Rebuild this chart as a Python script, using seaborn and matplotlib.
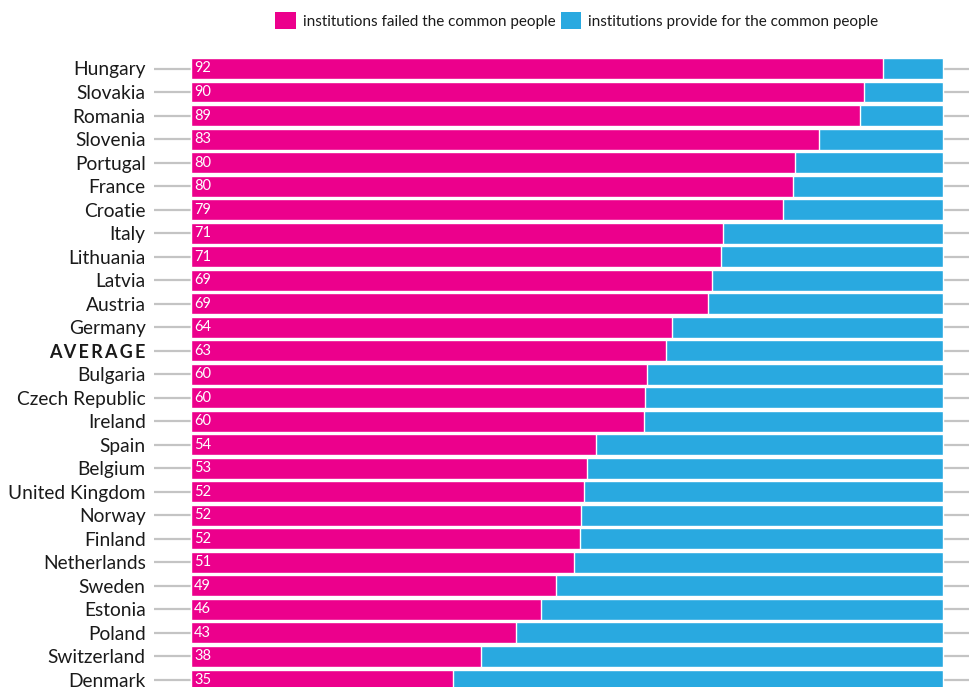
import matplotlib
matplotlib.use("Agg")
import matplotlib.pyplot as plt
from matplotlib.patches import Patch
import seaborn as sns
import pandas as pd

countries = ["Hungary", "Slovakia", "Romania", "Slovenia", "Portugal", "France", "Croatie",
             "Italy", "Lithuania", "Latvia", "Austria", "Germany", "AVERAGE", "Bulgaria",
             "Czech Republic", "Ireland", "Spain", "Belgium", "United Kingdom", "Norway",
             "Finland", "Netherlands", "Sweden", "Estonia", "Poland", "Switzerland", "Denmark"]
failed = [92.0, 89.5, 89.0, 83.5, 80.3, 80.0, 78.7, 70.8, 70.5, 69.3, 68.8, 63.9, 63.2, 60.6,
          60.4, 60.2, 53.8, 52.7, 52.3, 51.9, 51.7, 50.9, 48.6, 46.5, 43.2, 38.5, 34.8]
labels = [92, 90, 89, 83, 80, 80, 79, 71, 71, 69, 69, 64, 63, 60, 60, 60, 54, 53, 52, 52, 52,
          51, 49, 46, 43, 38, 35]
total = [100] * len(countries)
legend_labels = ["institutions failed the common people",
                 "institutions provide for the common people"]

PINK = "#EC008C"
BLUE = "#29A9E0"
FONT = "Lato"

df = pd.DataFrame({"country": countries, "failed": failed, "total": total})

sns.set_theme(style="white")
plt.rcParams["font.family"] = [FONT, "DejaVu Sans"]

W, H = 970, 687
fig = plt.figure(figsize=(W / 100, H / 100), dpi=100)
ax = fig.add_axes([154 / W, 0, 1 - 154 / W, 1])

sns.barplot(data=df, x="total", y="country", color=BLUE, orient="h", width=0.89,
            saturation=1, ax=ax, zorder=3)
sns.barplot(data=df, x="failed", y="country", color=PINK, orient="h", width=0.89,
            saturation=1, ax=ax, zorder=4)

ppu = (943 - 191) / 100.0
ax.set_xlim((154 - 191) / ppu, (970 - 191) / ppu)
step = (680 - 68.5) / 26
ax.set_ylim((687 - 68.5) / step, -68.5 / step)

ax.grid(axis="y", color="#c4c4c4", linewidth=1.6, zorder=0)
ax.grid(axis="x", visible=False)
ax.set_axisbelow(True)
for s in ax.spines.values():
    s.set_visible(False)
ax.set_xticks([])
ax.set_xlabel("")
ax.set_ylabel("")
ax.tick_params(axis="y", length=0, pad=6, labelsize=13.8, labelcolor="#1a1a1a")

SP = "\u2009"
tick_texts = [SP.join(c) if c == "AVERAGE" else c for c in countries]
ax.set_yticks(range(len(countries)), tick_texts)
for t in ax.get_yticklabels():
    if SP in t.get_text():
        t.set_fontweight("bold")
        t.set_fontsize(13)

for i, lab in enumerate(labels):
    ax.text(0.4, i, str(lab), color="white", va="center", ha="left", fontsize=10.5, zorder=5)

handles = [Patch(facecolor=PINK, edgecolor="none"), Patch(facecolor=BLUE, edgecolor="none")]
fig.legend(handles, legend_labels,
           loc="upper left", bbox_to_anchor=(269 / W, 1 - 6 / H), ncol=2, frameon=False,
           fontsize=11, handlelength=1.35, handleheight=1.35, handletextpad=0.45,
           columnspacing=0.35, borderaxespad=0, labelcolor="#1a1a1a")

fig.savefig("out.png", dpi=100)
